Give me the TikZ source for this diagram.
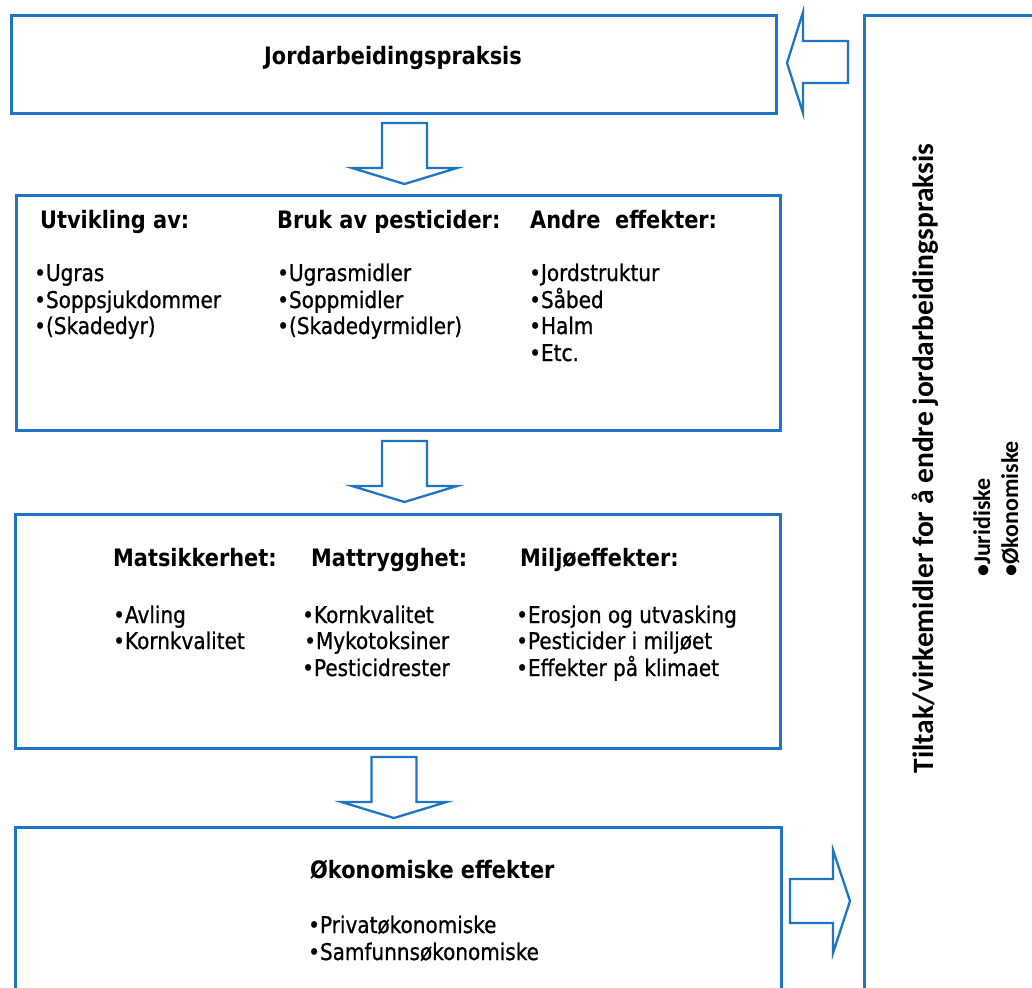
\documentclass[tikz,border=0pt]{standalone}
\usepackage{fontspec}
\setmainfont{DejaVu Sans}[FakeStretch=0.87]
\newfontfamily\itfont{DejaVu Sans}[FakeStretch=0.87, FakeBold=0.8]
\newfontfamily\carl{Carlito}
\definecolor{bblue}{RGB}{30,117,198}
\begin{document}
\begin{tikzpicture}[x=1pt,y=-1pt,
  box/.style={draw=bblue, line width=2.8pt, anchor=north west, inner sep=0pt},
  barrow/.style={draw=bblue, line width=2.3pt, line join=miter, fill=white},
  hd/.style={anchor=base west, inner sep=0pt, font=\bfseries\fontsize{24}{28}\selectfont},
  it/.style={anchor=base west, inner sep=0pt, font=\itfont\fontsize{23}{28}\selectfont},
  rt/.style={rotate=90, anchor=base west, inner sep=0pt, font=\carl\bfseries\fontsize{24}{28}\selectfont},
  pics/darrow/.style={code={\draw[barrow] (-22.5,0) -- (22.5,0) -- (22.5,45) -- (52.5,45) -- (0,61) -- (-52.5,45) -- (-22.5,45) -- cycle;}}
]
\path[use as bounding box] (0,0) rectangle (1032,987);
\clip (0,0) rectangle (1032,987);

% boxes
\node[box, minimum width=765pt, minimum height=98pt] (b1) at (10,14) {};
\node[box, minimum width=764pt, minimum height=235pt] (b2) at (15,194) {};
\node[box, minimum width=765pt, minimum height=234pt] (b3) at (14,513) {};
\node[box, minimum width=766pt, minimum height=165pt] (b4) at (14,826) {};
\node[box, minimum width=180pt, minimum height=990pt] (rb) at (863,14) {};

% block arrows
\pic at (404.5,123) {darrow};
\pic at (404.5,441) {darrow};
\pic at (394,757) {darrow};
\draw[barrow] (848,41) -- (848,83) -- (803,83) -- (803,113) -- (787,63) -- (803,12) -- (803,41) -- cycle;
\draw[barrow] (790,879) -- (833,879) -- (833,850) -- (850,901) -- (833,953) -- (833,923) -- (790,923) -- cycle;

% top box
\node[anchor=base, inner sep=0pt, font=\bfseries\fontsize{24}{28}\selectfont] (t1) at (393,65) {Jordarbeidingspraksis};

% box 2
\node[hd] (h21) at (40,228) {Utvikling av:};
\node[hd] (h22) at (277,228) {Bruk av pesticider:};
\node[hd] (h23) at (530,228) {Andre~~effekter:};
\node[it] (i211) at (34,281) {•Ugras};
\node[it] (i212) at (34,308) {•Soppsjukdommer};
\node[it] (i213) at (34,334) {•(Skadedyr)};
\node[it] (i221) at (277,281) {•Ugrasmidler};
\node[it] (i222) at (277,308) {•Soppmidler};
\node[it] (i223) at (277,334) {•(Skadedyrmidler)};
\node[it] (i231) at (529,281) {•Jordstruktur};
\node[it] (i232) at (529,308) {•Såbed};
\node[it] (i233) at (529,334) {•Halm};
\node[it] (i234) at (529,361) {•Etc.};

% box 3
\node[hd] (h31) at (113,566) {Matsikkerhet:};
\node[hd] (h32) at (311,566) {Mattrygghet:};
\node[hd] (h33) at (520,566) {Miljøeffekter:};
\node[it] (i311) at (113,623) {•Avling};
\node[it] (i312) at (113,649) {•Kornkvalitet};
\node[it] (i321) at (302,623) {•Kornkvalitet};
\node[it] (i322) at (304,649) {•Mykotoksiner};
\node[it] (i323) at (302,676) {•Pesticidrester};
\node[it] (i331) at (516,623) {•Erosjon og utvasking};
\node[it] (i332) at (516,649) {•Pesticider i miljøet};
\node[it] (i333) at (516,676) {•Effekter på klimaet};

% box 4
\node[hd] (h41) at (310,878) {Økonomiske effekter};
\node[it] (i411) at (308,933) {•Privatøkonomiske};
\node[it] (i412) at (308,960) {•Samfunnsøkonomiske};

% right box
\node[rotate=90, anchor=base, inner sep=0pt, font=\carl\bfseries\fontsize{29.5}{33}\selectfont] (rt0) at (933,458.5) {Tiltak/virkemidler for å endre jordarbeidingspraksis};
\node[rt] (r1) at (990,577) {•Juridiske};
\node[rt] (r2) at (1018,577) {•Økonomiske};
\end{tikzpicture}
\end{document}
